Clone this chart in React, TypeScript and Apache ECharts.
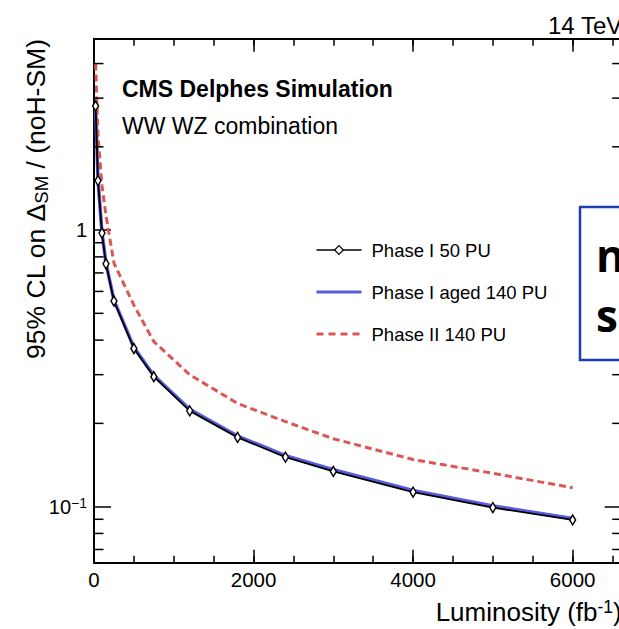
import React, { useEffect, useRef } from 'react';
import * as echarts from 'echarts';

const luminosity = [20, 50, 100, 150, 250, 500, 750, 1200, 1800, 2400, 3000, 4000, 5000, 6000];
const phaseI50PU = [2.81, 1.51, 0.975, 0.755, 0.554, 0.373, 0.295, 0.222, 0.178, 0.151, 0.134, 0.1128, 0.0992, 0.0895];
const phaseIAged140PU = [2.83, 1.52, 0.98, 0.76, 0.558, 0.377, 0.298, 0.225, 0.18, 0.153, 0.136, 0.1145, 0.1006, 0.0906];
const phaseII140PU = [4.0, 2.2, 1.45, 1.13, 0.76, 0.535, 0.395, 0.3, 0.236, 0.203, 0.176, 0.148, 0.132, 0.117];
const yMinorTicks = [0.07, 0.08, 0.09, 0.2, 0.3, 0.4, 0.5, 0.6, 0.7, 0.8, 0.9, 2, 3, 4];
const xMajorInterval = 2000;
const xMinorInterval = 500;

const X_MIN = 0;
const X_MAX = 6615;
const Y_MIN = 0.0627;
const Y_MAX = 4.92;

const FONT = '"Liberation Sans", Arial, Helvetica, sans-serif';
const BLUE = '#5a5ade';
const RED = '#dc5656';

const axisLineStyle = { color: '#000', width: 2 };
const tickLineStyle = { color: '#000', width: 1.5 };

function xAxisDef(position: string, interval: number, major: boolean, labels: boolean) {
  return {
    type: 'value',
    min: X_MIN,
    max: X_MAX,
    interval,
    position,
    splitLine: { show: false },
    axisLine: { show: major, onZero: false, lineStyle: axisLineStyle },
    axisTick: { show: true, inside: true, length: major ? 13 : 7, lineStyle: tickLineStyle },
    axisLabel: labels
      ? {
          show: true,
          showMaxLabel: false,
          margin: 6,
          fontSize: 20.5,
          fontFamily: FONT,
          color: '#000',
          formatter: (v: number) => String(v),
        }
      : { show: false },
  };
}

function yAxisDef(position: string, labels: boolean) {
  return {
    type: 'log',
    logBase: 10,
    min: Y_MIN,
    max: Y_MAX,
    position,
    splitLine: { show: false },
    axisLine: { show: true, onZero: false, lineStyle: axisLineStyle },
    axisTick: { show: true, inside: true, length: 17, lineStyle: tickLineStyle },
    axisLabel: labels
      ? {
          show: true,
          showMinLabel: false,
          showMaxLabel: false,
          margin: 7,
          color: '#000',
          fontFamily: FONT,
          fontSize: 20,
          formatter: (v: number) => {
            const l = Math.log10(v);
            if (Math.abs(l) < 1e-6) return '{b|1}';
            if (Math.abs(l + 1) < 1e-6) return '{b|10}{s|\u22121}';
            return '';
          },
          rich: {
            b: { fontSize: 20, fontFamily: FONT, color: '#000', lineHeight: 22 },
            s: { fontSize: 14, fontFamily: FONT, color: '#000', lineHeight: 14, verticalAlign: 'top' },
          },
        }
      : { show: false },
  };
}

export default function App() {
  const ref = useRef<HTMLDivElement>(null);

  useEffect(() => {
    if (!ref.current) return;
    const chart = echarts.init(ref.current, undefined, { renderer: 'svg' });

    const option: any = {
      animation: false,
      backgroundColor: '#fff',
      grid: { left: 94, top: 38.7, width: 527.7, height: 524, outerBoundsMode: 'none', containLabel: false },
      xAxis: [
        xAxisDef('bottom', xMajorInterval, true, true),
        xAxisDef('bottom', xMinorInterval, false, false),
        xAxisDef('top', xMajorInterval, true, false),
        xAxisDef('top', xMinorInterval, false, false),
      ],
      yAxis: [yAxisDef('left', true), yAxisDef('right', false)],
      legend: {
        orient: 'vertical',
        left: 315,
        top: 240,
        padding: 0,
        itemWidth: 45,
        itemHeight: 11,
        itemGap: 22,
        selectedMode: false,
        textStyle: { fontSize: 18.5, fontFamily: FONT, color: '#000', lineHeight: 20, padding: [0, 0, 0, 5] },
        data: [
          {
            name: 'Phase I 50 PU',
            itemStyle: { color: '#fff', borderColor: '#000', borderWidth: 1.2 },
            lineStyle: { color: '#000', width: 1.3 },
          },
          {
            name: 'Phase I aged 140 PU',
            itemStyle: { opacity: 0 },
            lineStyle: { color: BLUE, width: 3 },
          },
          {
            name: 'Phase II 140 PU',
            itemStyle: { opacity: 0 },
            lineStyle: { color: RED, width: 3, type: [7, 5] },
          },
        ],
      },
      series: [
        {
          name: 'Phase I aged 140 PU',
          type: 'line',
          data: luminosity.map((x, i) => [x, phaseIAged140PU[i]]),
          symbol: 'none',
          lineStyle: { color: BLUE, width: 3.5 },
          itemStyle: { color: BLUE },
          z: 2,
        },
        {
          name: 'Phase II 140 PU',
          type: 'line',
          data: luminosity.map((x, i) => [x, phaseII140PU[i]]),
          symbol: 'none',
          lineStyle: { color: RED, width: 3, type: [7, 4] },
          itemStyle: { color: RED },
          z: 2,
        },
        {
          name: 'Phase I 50 PU',
          type: 'line',
          data: luminosity.map((x, i) => [x, phaseI50PU[i]]),
          symbol: 'diamond',
          symbolSize: [6, 10],
          showSymbol: true,
          lineStyle: { color: '#000', width: 1.8 },
          itemStyle: { color: '#fff', borderColor: '#000', borderWidth: 1.5 },
          z: 3,
        },
        {
          type: 'custom',
          silent: true,
          z: 4,
          clip: false,
          data: yMinorTicks.map((v) => [X_MIN, v]),
          renderItem: (params: any, api: any) => {
            const v = api.value(1);
            const p0 = api.coord([X_MIN, v]);
            const p1 = api.coord([X_MAX, v]);
            const st = { stroke: '#000', lineWidth: 1.5 };
            return {
              type: 'group',
              children: [
                { type: 'line', shape: { x1: p0[0], y1: p0[1], x2: p0[0] + 9.5, y2: p0[1] }, style: st },
                { type: 'line', shape: { x1: p1[0], y1: p1[1], x2: p1[0] - 9.5, y2: p1[1] }, style: st },
              ],
            };
          },
        },
      ],
      graphic: [
        {
          type: 'text',
          x: 548,
          y: 25,
          style: { text: '14 TeV', fontSize: 24, fontFamily: FONT, fill: '#000', align: 'left', verticalAlign: 'middle' },
        },
        {
          type: 'text',
          x: 122,
          y: 88.5,
          style: {
            text: 'CMS Delphes Simulation',
            fontSize: 23,
            fontWeight: 'bold',
            fontFamily: FONT,
            fill: '#000',
            align: 'left',
            verticalAlign: 'middle',
          },
        },
        {
          type: 'text',
          x: 122,
          y: 126,
          style: { text: 'WW WZ combination', fontSize: 23, fontFamily: FONT, fill: '#000', align: 'left', verticalAlign: 'middle' },
        },
        {
          type: 'text',
          x: 36,
          y: 39,
          rotation: Math.PI / 2,
          style: {
            text: '{a|95% CL on \u0394}{b|SM}{a| / (noH-SM)}',
            align: 'right',
            verticalAlign: 'middle',
            fill: '#000',
            rich: {
              a: { fontSize: 26.5, fontFamily: FONT, fill: '#000', lineHeight: 29 },
              b: { fontSize: 18.5, fontFamily: FONT, fill: '#000', lineHeight: 12, verticalAlign: 'bottom' },
            },
          },
        },
        {
          type: 'text',
          x: 621.7,
          y: 612,
          style: {
            text: '{a|Luminosity (fb}{s|-1}{a|)}',
            align: 'right',
            verticalAlign: 'middle',
            fill: '#000',
            rich: {
              a: { fontSize: 26, fontFamily: FONT, fill: '#000', lineHeight: 29 },
              s: { fontSize: 17.5, fontFamily: FONT, fill: '#000', lineHeight: 16, verticalAlign: 'top' },
            },
          },
        },
        {
          type: 'rect',
          shape: { x: 580, y: 207, width: 60, height: 153 },
          style: { fill: '#fff', stroke: '#1c3fae', lineWidth: 2.5 },
          z: 10,
        },
        {
          type: 'text',
          x: 596,
          y: 255,
          z: 11,
          style: { text: 'n', fontSize: 44, fontWeight: 'bold', fontFamily: '"Open Sans", sans-serif', fill: '#000', align: 'left', verticalAlign: 'middle' },
        },
        {
          type: 'text',
          x: 596,
          y: 315,
          z: 11,
          style: { text: 'sc', fontSize: 44, fontWeight: 'bold', fontFamily: '"Open Sans", sans-serif', fill: '#000', align: 'left', verticalAlign: 'middle' },
        },
      ],
    };

    chart.setOption(option);
    return () => chart.dispose();
  }, []);

  return (
    <div
      ref={ref}
      style={{ position: 'fixed', left: 0, top: 0, width: 619, height: 629, background: '#fff' }}
    />
  );
}
